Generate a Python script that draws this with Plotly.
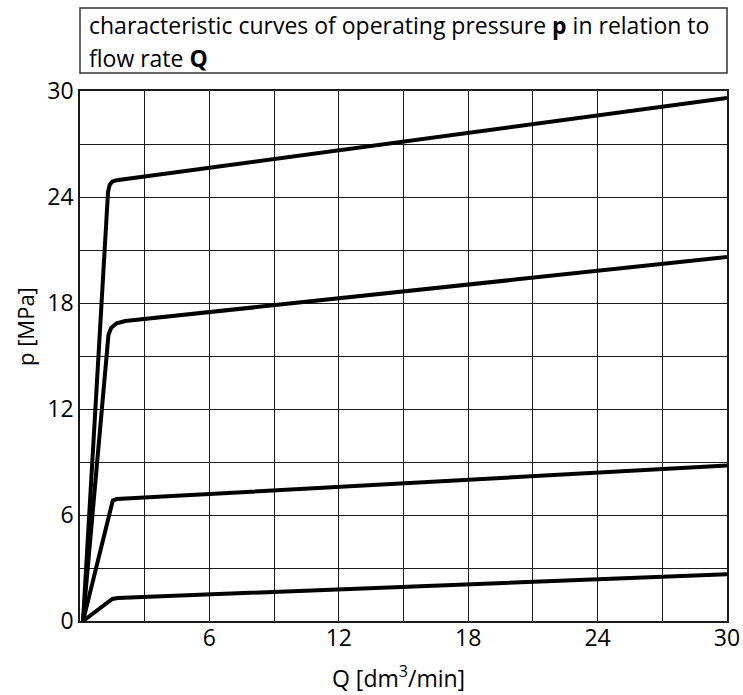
import plotly.graph_objects as go

# Flow rate Q [dm3/min] and pressure p [MPa] for each characteristic curve
q_curve1 = [0.14, 1.30, 1.38, 1.50, 1.70, 30.0]
p_curve1 = [0.0, 24.3, 24.7, 24.88, 24.95, 29.6]

q_curve2 = [0.14, 1.25, 1.32, 1.45, 1.70, 2.10, 30.0]
p_curve2 = [0.0, 15.6, 16.2, 16.6, 16.85, 16.98, 20.6]

q_curve3 = [0.14, 1.42, 1.52, 1.70, 30.0]
p_curve3 = [0.0, 6.55, 6.82, 6.90, 8.8]

q_curve4 = [0.14, 0.50, 0.95, 1.30, 1.50, 1.75, 30.0]
p_curve4 = [0.0, 0.35, 0.78, 1.12, 1.25, 1.30, 2.65]

x_tickvals = [6, 12, 18, 24, 30]
x_ticktext = ["6", "12", "18", "24", "30"]
y_tickvals = [0, 6, 12, 18, 24, 30]
y_ticktext = ["0", "6", "12", "18", "24", "30"]

title_line1 = "characteristic curves of operating pressure <b>p</b> in relation to"
title_line2 = "flow rate <b>Q</b>"
x_title = "Q [dm<sup>3</sup>/min]"
y_title = "p [MPa]"

FONT = "Open Sans"
GRID = "#1a1a1a"

fig = go.Figure()
for qs, ps in [(q_curve1, p_curve1), (q_curve2, p_curve2),
               (q_curve3, p_curve3), (q_curve4, p_curve4)]:
    fig.add_trace(go.Scatter(x=qs, y=ps, mode="lines",
                             line=dict(color="#000000", width=4),
                             showlegend=False, hoverinfo="skip"))

fig.update_layout(
    width=743, height=695,
    margin=dict(l=80, r=16, t=91, b=74, autoexpand=False),
    paper_bgcolor="white", plot_bgcolor="white",
    font=dict(family=FONT, color="#000000"),
    showlegend=False,
)
fig.update_xaxes(
    range=[0, 30], tickvals=x_tickvals, ticktext=x_ticktext,
    tickfont=dict(size=23, family=FONT), ticks="", ticklabelstandoff=-4,
    showgrid=True, gridcolor=GRID, gridwidth=1.3, automargin=False,
    minor=dict(dtick=3, tick0=0, showgrid=True, gridcolor=GRID, gridwidth=1.3),
    showline=True, linecolor=GRID, linewidth=1.5, mirror=True,
    zeroline=False, fixedrange=True,
)
fig.update_yaxes(
    range=[0, 30], tickvals=y_tickvals, ticktext=y_ticktext,
    tickfont=dict(size=23, family=FONT), ticks="", automargin=False,
    showgrid=True, gridcolor=GRID, gridwidth=1.3,
    minor=dict(dtick=3, tick0=0, showgrid=True, gridcolor=GRID, gridwidth=1.3),
    showline=True, linecolor=GRID, linewidth=1.5, mirror=True,
    zeroline=False, fixedrange=True,
)

# Title box
fig.add_shape(type="rect", xref="paper", yref="paper",
              x0=0, x1=1.0, y0=(621 - 73) / 530, y1=(621 - 8) / 530,
              line=dict(color="#333333", width=1.5), fillcolor="white")
fig.add_annotation(xref="paper", yref="paper", x=7 / 647, y=(621 - 25) / 530,
                   xanchor="left", yanchor="middle", showarrow=False,
                   text=title_line1, font=dict(size=23, family=FONT))
fig.add_annotation(xref="paper", yref="paper", x=7 / 647, y=(621 - 58) / 530,
                   xanchor="left", yanchor="middle", showarrow=False,
                   text=title_line2, font=dict(size=23, family=FONT))

# Axis titles
fig.add_annotation(xref="paper", yref="paper", x=(398 - 80) / 647, y=-(677 - 621) / 530,
                   xanchor="center", yanchor="middle", showarrow=False,
                   text=x_title, font=dict(size=23, family=FONT))
fig.add_annotation(xref="paper", yref="paper", x=-(80 - 25) / 647, y=(621 - 327) / 530,
                   xanchor="center", yanchor="middle", showarrow=False, textangle=-90,
                   text=y_title, font=dict(size=22, family=FONT))

fig.write_html("out.html", config={"displayModeBar": False},
               post_script="document.body.style.margin='0';")
